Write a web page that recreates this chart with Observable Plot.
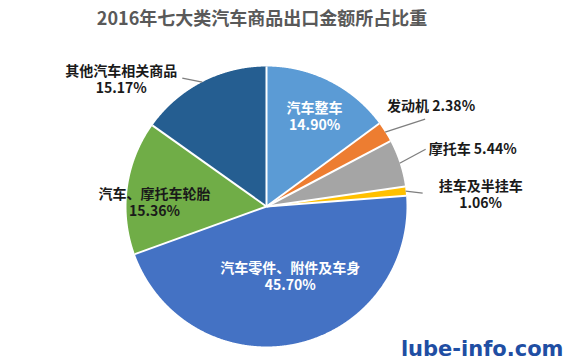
<!DOCTYPE html>
<html><head><meta charset="utf-8">
<script src="https://cdn.jsdelivr.net/npm/d3@7"></script>
<script src="https://cdn.jsdelivr.net/npm/@observablehq/plot@0.6"></script>
<style>body{margin:0;background:#fff;} #chart svg{display:block;}</style>
</head><body><div id="chart"></div>
<script>
// ---- data ----
const title = "2016年七大类汽车商品出口金额所占比重";
const categories = ["汽车整车","发动机","摩托车","挂车及半挂车","汽车零件、附件及车身","汽车、摩托车轮胎","其他汽车相关商品"];
const shares = [14.90, 2.38, 5.44, 1.06, 45.70, 15.36, 15.17];
const shareLabels = ["14.90%","2.38%","5.44%","1.06%","45.70%","15.36%","15.17%"];
const colors = ["#5b9bd5","#ed7d31","#a5a5a5","#ffc000","#4472c4","#70ad47","#255e91"];
const source = "lube-info.com";

// ---- layout ----
const W = 567, H = 359, CX = 266, CY = 206, R = 140;
// label placement: radius factor along mid-angle, pixel offset, leader end offset, style group
const labelLayout = [
  {rf:0.73, off:[2,1],   group:"inside",  lines:2},
  {rf:1,    off:[2,-26], leader:[40,-13], group:"start", lines:1},
  {rf:1,    off:[29,-14],leader:[26,-14], group:"start", lines:1},
  {rf:1,    off:[75,3],  leader:[17,2],   group:"middle", lines:2},
  {rf:0.5,  off:[9,1],   group:"inside",  lines:2},
  {rf:0.8,  off:[-1,11], group:"middle",  lines:2},
  {rf:1,    off:[-81,-3.5], leader:[-20,-4], group:"middle", lines:2}
];

const total = d3.sum(shares);
let acc = 0;
const slices = categories.map((c, i) => {
  const a0 = acc / total * 2 * Math.PI; acc += shares[i];
  const a1 = acc / total * 2 * Math.PI;
  return {category: c, share: shares[i], label: shareLabels[i], a0, a1, mid: (a0 + a1) / 2, layout: labelLayout[i]};
});

const step = Math.PI / 720;
const polyPts = slices.flatMap(s => {
  const pts = [{category: s.category, x: 0, y: 0}];
  const n = Math.max(2, Math.ceil((s.a1 - s.a0) / step));
  for (let k = 0; k <= n; k++) {
    const t = s.a0 + (s.a1 - s.a0) * k / n;
    pts.push({category: s.category, x: Math.sin(t), y: Math.cos(t)});
  }
  pts.push({category: s.category, x: 0, y: 0});
  return pts;
});

const labels = slices.map(s => {
  const L = s.layout;
  const ex = Math.sin(s.mid) * L.rf, ey = Math.cos(s.mid) * L.rf;
  const text = L.lines === 2 ? s.category + "\n" + s.label : s.category + " " + s.label;
  const o = {group: L.group, text, x: ex + L.off[0] / R, y: ey - L.off[1] / R};
  if (L.leader) { o.lx1 = ex; o.ly1 = ey; o.lx2 = ex + L.leader[0] / R; o.ly2 = ey - L.leader[1] / R; }
  return o;
});
const leaders = labels.filter(d => d.lx1 !== undefined);
const dividers = slices.map(s => ({x: Math.sin(s.a0), y: Math.cos(s.a0)}));

const font = "'Noto Sans CJK SC', 'Noto Sans', sans-serif";
const chart = Plot.plot({
  width: W, height: H, margin: 0,
  style: {fontFamily: font, background: "white", overflow: "visible"},
  x: {domain: [-CX / R, (W - CX) / R], axis: null},
  y: {domain: [-(H - CY) / R, CY / R], axis: null},
  color: {domain: categories, range: colors},
  marks: [
    Plot.line(polyPts, {x: "x", y: "y", z: "category", fill: "category", stroke: "none"}),
    Plot.link(dividers, {x1: 0, y1: 0, x2: "x", y2: "y", stroke: "white", strokeWidth: 2}),
    Plot.link(leaders, {x1: "lx1", y1: "ly1", x2: "lx2", y2: "ly2", stroke: "#7f7f7f", strokeWidth: 1.3}),
    Plot.text(labels.filter(d => d.group === "inside"), {x: "x", y: "y", text: "text", fill: "white", fontSize: 14, fontWeight: "bold", lineHeight: 1.22}),
    Plot.text(labels.filter(d => d.group === "start"), {x: "x", y: "y", text: "text", fill: "#1a1a1a", fontSize: 14, fontWeight: "bold", textAnchor: "start"}),
    Plot.text(labels.filter(d => d.group === "middle"), {x: "x", y: "y", text: "text", fill: "#1a1a1a", fontSize: 14, fontWeight: "bold", lineHeight: 1.22}),
    Plot.text([title], {frameAnchor: "top", text: d => d, dx: -22, dy: 19, lineAnchor: "middle", fontSize: 18, fontWeight: "bold", fill: "#595959"}),
    Plot.text([source], {frameAnchor: "bottom-right", text: d => d, dx: -4, dy: -4, textAnchor: "end", lineAnchor: "bottom", fontSize: 21, fontWeight: "bold", fill: "#1f4ea3", fontFamily: "'DejaVu Sans', sans-serif"})
  ]
});
document.getElementById("chart").appendChild(chart);
</script>
</body></html>
